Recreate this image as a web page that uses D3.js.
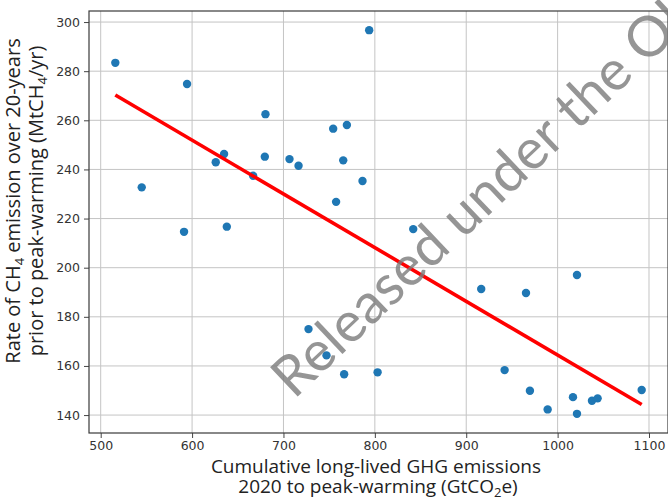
<!DOCTYPE html>
<html>
<head>
<meta charset="utf-8">
<script src="https://cdn.jsdelivr.net/npm/d3@7"></script>
<style>
  html, body { margin: 0; padding: 0; background: #fff; }
  svg { display: block; }
</style>
</head>
<body>
<svg id="chart"></svg>
<script>
// cumulative long-lived GHG emissions (GtCO2e)
const emissions = [516, 594.5, 680.3, 754.4, 769.4, 635, 625.9, 679.6, 706.6, 716.5,
    765.4, 666.8, 786.5, 544.9, 757.6, 793.8, 591.2, 638, 727.4, 747.1,
    766.4, 803, 842, 916.4, 965.4, 1021.2, 942, 969.7, 989.1, 1016.8,
    1021.2, 1037.6, 1043.8, 1092];
// rate of CH4 emission (MtCH4/yr)
const ch4Rate = [283.4, 274.8, 262.5, 256.6, 258.1, 246.3, 242.9, 245.2, 244.2, 241.5,
    243.7, 237.4, 235.3, 232.7, 226.8, 296.7, 214.6, 216.7, 175.0, 164.3,
    156.6, 157.4, 215.7, 191.3, 189.7, 197.0, 158.3, 149.9, 142.3, 147.3,
    140.5, 145.8, 146.8, 150.2];
// fitted trend line ends
const fitX = [516, 1092];
const fitY = [270.3, 144.3];

const xTicks = [500, 600, 700, 800, 900, 1000, 1100];
const yTicks = [140, 160, 180, 200, 220, 240, 260, 280, 300];

const W = 668, H = 500;
const margin = {top: 11, right: 0, bottom: 67, left: 89};
const width = W - margin.left - margin.right;
const height = H - margin.top - margin.bottom;

const svg = d3.select("#chart").attr("width", W).attr("height", H);
const g = svg.append("g").attr("transform", `translate(${margin.left},${margin.top})`);

// matplotlib-ish 5% margins
const x = d3.scaleLinear().domain([487.2, 1120.8]).range([0, width]);
const y = d3.scaleLinear().domain([132.7, 304.5]).range([height, 0]);

// grid
g.append("g").selectAll("line").data(xTicks).join("line")
    .attr("x1", d => x(d)).attr("x2", d => x(d))
    .attr("y1", 0).attr("y2", height)
    .attr("stroke", "#c4c4c4").attr("stroke-width", 1);
g.append("g").selectAll("line").data(yTicks).join("line")
    .attr("x1", 0).attr("x2", width)
    .attr("y1", d => y(d)).attr("y2", d => y(d))
    .attr("stroke", "#c4c4c4").attr("stroke-width", 1);

// axes
const xAxis = g.append("g")
    .attr("transform", `translate(0,${height})`)
    .call(d3.axisBottom(x).tickValues(xTicks).tickSize(5).tickPadding(3).tickFormat(d3.format("d")));
const yAxis = g.append("g")
    .call(d3.axisLeft(y).tickValues(yTicks).tickSize(5).tickPadding(4).tickFormat(d3.format("d")));
[xAxis, yAxis].forEach(a => {
    a.select(".domain").remove();
    a.selectAll(".tick line").attr("stroke", "#444");
    a.selectAll(".tick text")
        .attr("fill", "#333")
        .style("font-family", "DejaVu Sans")
        .style("font-size", "12.5px");
});

// frame
g.append("rect")
    .attr("x", 0).attr("y", 0).attr("width", width).attr("height", height)
    .attr("fill", "none").attr("stroke", "#3a3a3a").attr("stroke-width", 1.2);

// points
const pts = emissions.map((e, i) => ({e: e, r: ch4Rate[i]}));
g.append("g").selectAll("circle").data(pts).join("circle")
    .attr("cx", d => x(d.e))
    .attr("cy", d => y(d.r))
    .attr("r", 4.2)
    .attr("fill", "#1f77b4");

// trend line
g.append("path")
    .datum(fitX.map((v, i) => [v, fitY[i]]))
    .attr("d", d3.line().x(d => x(d[0])).y(d => y(d[1])))
    .attr("stroke", "#ff0000").attr("stroke-width", 3.6).attr("fill", "none");

// axis labels (subscripts done with dy so nothing drops off the page)
const labelFont = "'Open Sans'";
function sub(parent, t) {
    parent.append("tspan").attr("dy", 4).style("font-size", "13px").text(t);
}
const xl = svg.append("text")
    .attr("text-anchor", "middle")
    .style("font-family", labelFont).style("font-size", "19px").attr("fill", "#222");
xl.append("tspan").attr("x", 376).attr("y", 473).text("Cumulative long-lived GHG emissions");
const xl2 = xl.append("tspan").attr("x", 378).attr("y", 493);
xl2.append("tspan").text("2020 to peak-warming (GtCO");
sub(xl2, "2");
xl2.append("tspan").attr("dy", -4).text("e)");

const yl = svg.append("text")
    .attr("transform", "translate(0,201) rotate(-90)")
    .attr("text-anchor", "middle")
    .style("font-family", labelFont).style("font-size", "20px").attr("fill", "#222");
const yl1 = yl.append("tspan").attr("x", 0).attr("y", 20);
yl1.append("tspan").text("Rate of CH");
sub(yl1, "4");
yl1.append("tspan").attr("dy", -4).text(" emission over 20-years");
const yl2 = yl.append("tspan").attr("x", 0).attr("y", 43);
yl2.append("tspan").text("prior to peak-warming (MtCH");
sub(yl2, "4");
yl2.append("tspan").attr("dy", -4).text("/yr)");

// watermark
svg.append("text")
    .attr("transform", "translate(294,400) rotate(-43.5)")
    .style("font-family", "Lato").style("font-size", "56px")
    .attr("fill", "#7a7a7a").attr("fill-opacity", 0.8)
    .text("Released under the OIA");
</script>
</body>
</html>
